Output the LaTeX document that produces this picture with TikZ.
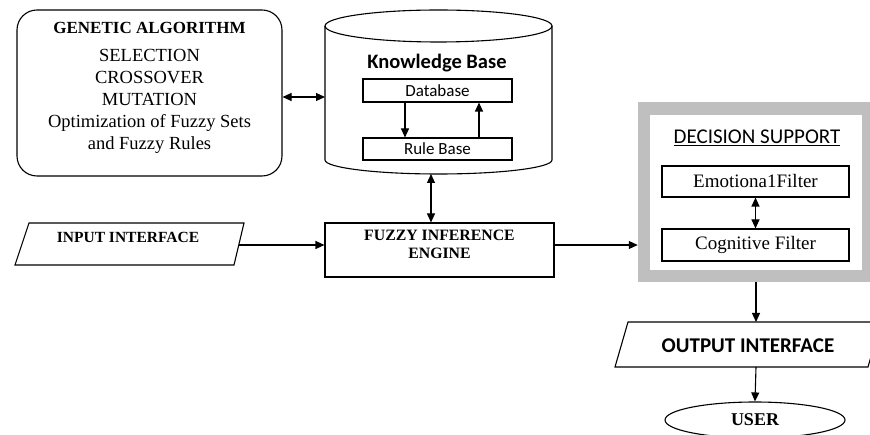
\documentclass[tikz,border=0pt]{standalone}
\usepackage{fontspec}
\setmainfont{Liberation Serif}
\newfontfamily\calfont{Carlito}
\usetikzlibrary{arrows.meta,shapes.geometric,calc}
\definecolor{dsgray}{RGB}{191,191,191}
\begin{document}
\begin{tikzpicture}[x=1pt,y=-1pt,line width=1.1pt,
  tip/.style={-{Triangle[length=9pt,width=8pt]}},
  dtip/.style={{Triangle[length=9pt,width=8pt]}-{Triangle[length=9pt,width=8pt]}},
  box/.style={draw,rectangle,inner sep=0pt},
  lbl/.style={inner sep=0pt,align=center}]
\useasboundingbox (0,0) rectangle (870,435);

% Genetic algorithm
\node[draw,rounded corners=20pt,minimum width=265pt,minimum height=166pt] (ga) at (149.5,93) {};
\node[lbl,font=\fontsize{18.5}{22}\selectfont] (gatext) at (149.5,88)
  {{\bfseries\fontsize{17}{22}\selectfont GENETIC ALGORITHM}\\[6pt]SELECTION\\CROSSOVER\\MUTATION\\Optimization of Fuzzy Sets\\and Fuzzy Rules};

% Knowledge base cylinder
\draw (325,26) -- (325,160)
  .. controls (325,167.7) and (375.8,174) .. (438.5,174)
  .. controls (501.2,174) and (552,167.7) .. (552,160) -- (552,26);
\draw (438.5,26) ellipse[x radius=113.5,y radius=16];
\node[minimum width=227pt,minimum height=164pt,inner sep=0pt,outer sep=0pt] (kb) at (438.5,92) {};
\node[lbl,font=\calfont\bfseries\fontsize{20.5}{22}\selectfont] (kbt) at (437,63) {Knowledge Base};
\node[box,minimum width=149pt,minimum height=23pt,font=\calfont\fontsize{17}{19}\selectfont] (db) at (437.5,90.5) {Database};
\node[box,minimum width=149pt,minimum height=22pt,font=\calfont\fontsize{17}{19}\selectfont] (rb) at (437.5,149) {Rule Base};
\draw[tip] ([xshift=-32.5pt]db.south) -- ([xshift=-32.5pt]rb.north);
\draw[tip] ([xshift=41.5pt]rb.north) -- ([xshift=41.5pt]db.south);

% Fuzzy inference engine
\node[box,minimum width=229pt,minimum height=54pt] (fie) at (439.5,250) {};
\node[lbl,font=\bfseries\fontsize{15.8}{18}\selectfont] (fiet) at (439.5,244) {FUZZY INFERENCE\\ENGINE};

% Input interface
\draw (15,265) -- (29,223) -- (244,223) -- (234,265) -- cycle;
\coordinate (inpR) at (239,245);
\node[lbl,font=\bfseries\fontsize{15.5}{18}\selectfont] (inp) at (128,237) {INPUT INTERFACE};

% Decision support
\node[draw=dsgray,line width=12.5pt,minimum width=224pt,minimum height=167.5pt,inner sep=0pt] (ds) at (756,192.25) {};
\node[lbl,font=\calfont\fontsize{21}{23}\selectfont] (dst) at (757,138) {\underline{DECISION SUPPORT}};
\node[box,minimum width=187pt,minimum height=31pt,font=\fontsize{19}{21}\selectfont] (emo) at (755.5,181.5) {Emotiona1Filter};
\node[box,minimum width=187pt,minimum height=32pt,font=\fontsize{19}{21}\selectfont] (cog) at (755.5,245) {Cognitive Filter};

% Output interface and user
\draw (615,367) -- (628,322) -- (881,322) -- (868,367) -- cycle;
\coordinate (outT) at (756,322);
\coordinate (outB) at (756,367);
\node[lbl,font=\calfont\bfseries\fontsize{21}{23}\selectfont] (outt) at (748,346) {OUTPUT INTERFACE};
\node[draw,ellipse,minimum width=180pt,minimum height=36pt,inner sep=0pt,font=\bfseries\fontsize{18}{20}\selectfont] (user) at (755,420) {USER};

% Connectors
\draw[dtip] ([yshift=-4pt]ga.east) -- ([yshift=-4pt]ga.east -| kb.west);
\draw[dtip] ([xshift=-7.5pt]kb.south) -- ([xshift=-7.5pt]kb.south |- fie.north);
\draw[tip] (inpR) -- (inpR -| fie.west);
\draw[tip] ([yshift=5pt]fie.east) -- ([yshift=5pt]fie.east -| ds.west);
\draw[dtip] (emo.south) -- (cog.north);
\draw[tip] (ds.south -| outT) -- (outT);
\draw[tip] (outB) -- (user.north);
\end{tikzpicture}
\end{document}
